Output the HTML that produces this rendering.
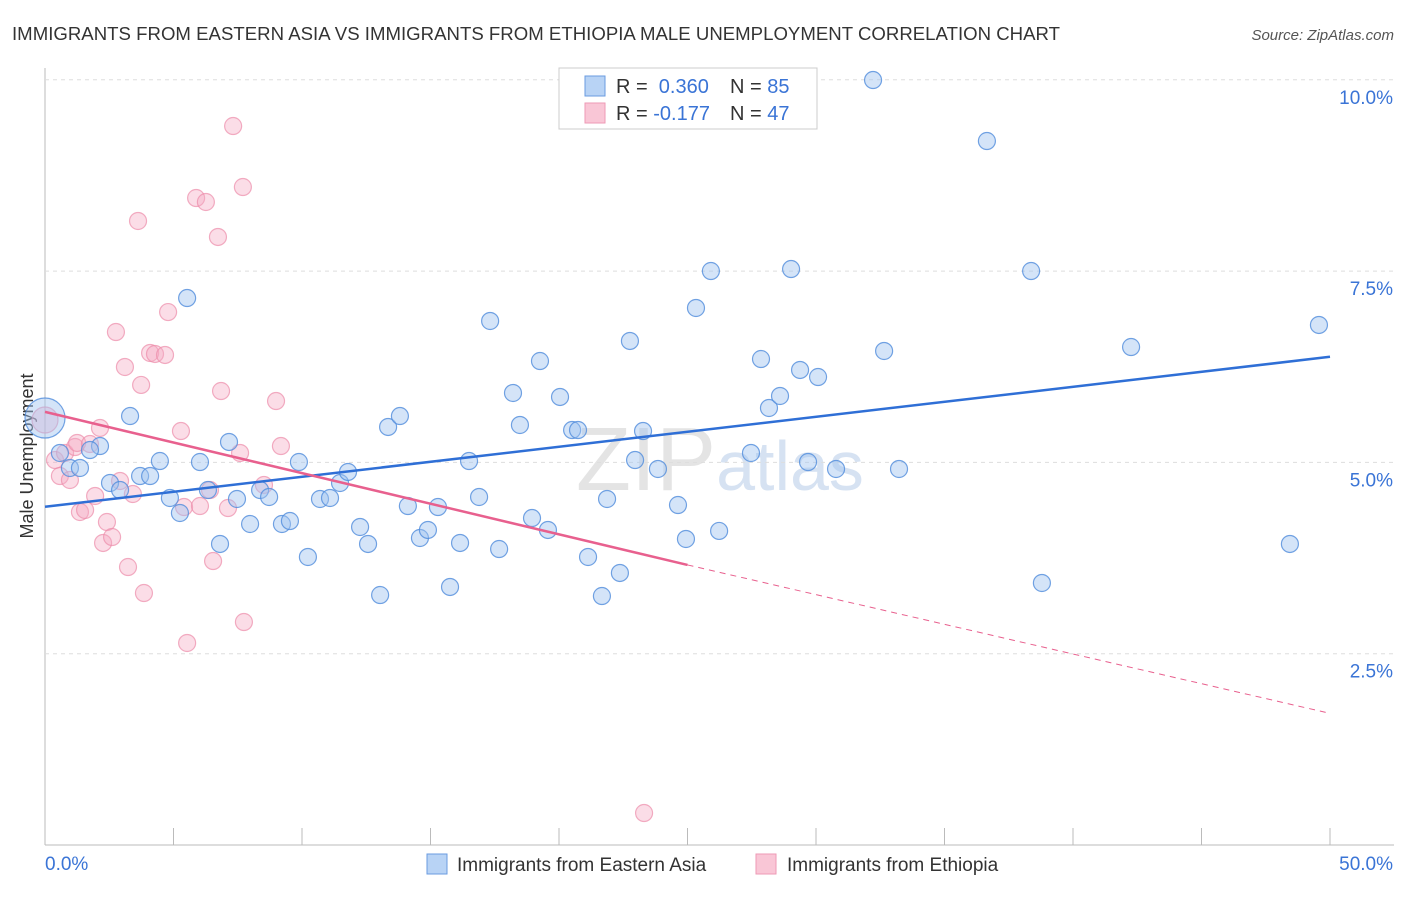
<!DOCTYPE html>
<html><head><meta charset="utf-8"><style>
body{margin:0;background:#fff;font-family:"Liberation Sans",sans-serif;}
svg text{font-family:"Liberation Sans",sans-serif;}
</style></head><body>
<svg id="chart" width="1406" height="892">
<text x="12" y="40" font-size="18.6" fill="#333" textLength="1048">IMMIGRANTS FROM EASTERN ASIA VS IMMIGRANTS FROM ETHIOPIA MALE UNEMPLOYMENT CORRELATION CHART</text>
<text x="1394" y="40" font-size="15" fill="#555" text-anchor="end" font-style="italic">Source: ZipAtlas.com</text>
<text x="0" y="0" transform="translate(33,456) rotate(-90)" font-size="18" fill="#333" text-anchor="middle">Male Unemployment</text>
<text x="720" y="490" font-size="90" fill="#e4e4e4" text-anchor="middle" font-family="Liberation Serif">ZIP<tspan fill="#d6e2f2" font-family="Liberation Sans" font-size="70">atlas</tspan></text>
<g id="grid"></g><g id="pts"></g><g id="lines"></g>
<rect x="559" y="68" width="258" height="61" fill="#fff" stroke="#ccc"/>
<rect x="585" y="76" width="20" height="20" fill="#b8d3f5" stroke="#6a9be0"/>
<rect x="585" y="103" width="20" height="20" fill="#f9c6d6" stroke="#ee9ab5"/>
<text x="616" y="93" font-size="20" fill="#333">R = <tspan fill="#3a74d6">&#160;0.360</tspan><tspan x="730">N = </tspan><tspan fill="#3a74d6">85</tspan></text>
<text x="616" y="120" font-size="20" fill="#333">R = <tspan fill="#3a74d6">-0.177</tspan><tspan x="730">N = </tspan><tspan fill="#3a74d6">47</tspan></text>
<rect x="427" y="854" width="20" height="20" fill="#b8d3f5" stroke="#6a9be0"/>
<text x="457" y="871" font-size="19" fill="#333">Immigrants from Eastern Asia</text>
<rect x="756" y="854" width="20" height="20" fill="#f9c6d6" stroke="#ee9ab5"/>
<text x="787" y="871" font-size="19" fill="#333">Immigrants from Ethiopia</text>
</svg>
<script>
const yTicks=[2.5,5.0,7.5,10.0];
const yTickLabels=["2.5%","5.0%","7.5%","10.0%"];
const xTicks=[0,5,10,15,20,25,30,35,40,45,50];
const bluePx=[[45,418,20],[60,453],[70,468],[80,468],[100,446],[90,450],[110,483],[120,490],[130,416],[140,476],[150,476],[160,461],[170,498],[180,513],[187,298],[200,462],[208,490],[220,544],[229,442],[237,499],[250,524],[260,490],[269,497],[282,524],[290,521],[299,462],[308,557],[320,499],[330,498],[340,483],[348,472],[360,527],[368,544],[380,595],[388,427],[400,416],[408,506],[420,538],[428,530],[438,507],[450,587],[460,543],[469,461],[479,497],[490,321],[499,549],[513,393],[520,425],[532,518],[540,361],[548,530],[560,397],[572,430],[578,430],[588,557],[602,596],[607,499],[620,573],[630,341],[635,460],[643,431],[658,469],[678,505],[686,539],[696,308],[711,271],[719,531],[751,453],[761,359],[769,408],[780,396],[791,269],[800,370],[808,462],[818,377],[836,469],[873,80],[884,351],[899,469],[987,141],[1031,271],[1042,583],[1131,347],[1290,544],[1319,325]];
const pinkPx=[[45,420,13],[55,460],[60,476],[65,453],[70,480],[75,447],[77,443],[80,512],[85,510],[90,444],[95,496],[100,428],[103,543],[107,522],[112,537],[116,332],[120,481],[125,367],[128,567],[133,494],[138,221],[141,385],[144,593],[150,353],[155,354],[165,355],[168,312],[181,431],[184,507],[187,643],[196,198],[200,506],[206,202],[210,490],[213,561],[218,237],[221,391],[228,508],[233,126],[240,453],[243,187],[244,622],[264,485],[276,401],[281,446],[644,813]];
const blueX=bluePx.map(p=>+((p[0]-45)/1285*50).toFixed(2));
const blueY=bluePx.map(p=>+((845-p[1])/191.3*2.5).toFixed(3));
const blueR=bluePx.map(p=>p[2]||8.5);
const pinkX=pinkPx.map(p=>+((p[0]-45)/1285*50).toFixed(2));
const pinkY=pinkPx.map(p=>+((845-p[1])/191.3*2.5).toFixed(3));
const pinkR=pinkPx.map(p=>p[2]||8.5);
const blueTrend=[[0,4.42],[50,6.38]];
const pinkTrend=[[0,5.66],[25,3.66],[50,1.72]];
const X=v=>45+v/50*1285, Y=v=>845-v/2.5*191.3;
const NS="http://www.w3.org/2000/svg";
function mk(t,a,parent){const e=document.createElementNS(NS,t);for(const k in a)e.setAttribute(k,a[k]);document.getElementById(parent).appendChild(e);return e;}
let e;
e=mk('line',{x1:45,y1:68,x2:45,y2:845,stroke:'#bbb'},'grid');

e=mk('line',{x1:45,y1:845,x2:1394,y2:845,stroke:'#bbb'},'grid');

yTicks.forEach((v,i)=>{
 e=mk('line',{x1:45,y1:Y(v),x2:1394,y2:Y(v),stroke:'#ddd','stroke-dasharray':'4,4'},'grid');
 
 e=mk('text',{x:1393,y:Y(v)+24,'font-size':19,fill:'#3a74d6','text-anchor':'end'},'grid');e.textContent=yTickLabels[i];
 
});
xTicks.forEach(v=>{
 e=mk('line',{x1:X(v),y1:828,x2:X(v),y2:845,stroke:'#bbb'},'grid');
 
});
e=mk('text',{x:45,y:870,'font-size':19,fill:'#3a74d6'},'grid');e.textContent='0.0%';

e=mk('text',{x:1393,y:870,'font-size':19,fill:'#3a74d6','text-anchor':'end'},'grid');e.textContent='50.0%';

pinkX.forEach((v,i)=>{
 e=mk('circle',{cx:X(v),cy:Y(pinkY[i]),r:pinkR[i],fill:'rgba(246,170,196,0.4)',stroke:'rgba(236,140,170,0.7)','stroke-width':1.2},'pts');
 
});
blueX.forEach((v,i)=>{
 e=mk('circle',{cx:X(v),cy:Y(blueY[i]),r:blueR[i],fill:'rgba(160,196,240,0.45)',stroke:'rgba(80,140,220,0.8)','stroke-width':1.2},'pts');
 
});
e=mk('line',{x1:X(blueTrend[0][0]),y1:Y(blueTrend[0][1]),x2:X(blueTrend[1][0]),y2:Y(blueTrend[1][1]),stroke:'#2f6fd6','stroke-width':2.5},'lines');

e=mk('line',{x1:X(pinkTrend[0][0]),y1:Y(pinkTrend[0][1]),x2:X(pinkTrend[1][0]),y2:Y(pinkTrend[1][1]),stroke:'#e8608e','stroke-width':2.5},'lines');

e=mk('line',{x1:X(pinkTrend[1][0]),y1:Y(pinkTrend[1][1]),x2:X(pinkTrend[2][0]),y2:Y(pinkTrend[2][1]),stroke:'#e8608e','stroke-width':1,'stroke-dasharray':'6,5'},'lines');

</script>
</body></html>
